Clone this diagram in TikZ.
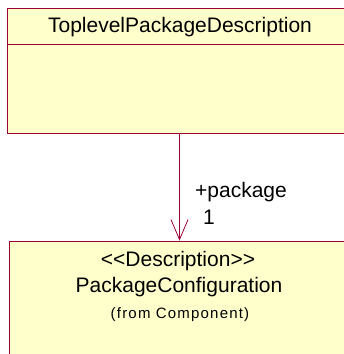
\documentclass[tikz,border=0pt]{standalone}
\usepackage{fontspec}
\setmainfont{Liberation Sans}
\usepackage{xcolor}
\usetikzlibrary{arrows.meta,positioning}
\definecolor{umlborder}{RGB}{153,0,51}
\definecolor{umlfill}{RGB}{255,255,204}
\begin{document}
\begin{tikzpicture}[x=1pt, y=-1pt,
    classbox/.style={rectangle, draw=umlborder, fill=umlfill, line width=0.8pt, inner sep=0pt},
    classname/.style={font=\fontsize{21}{25}\selectfont, inner sep=0pt, anchor=center},
    origin/.style={font=\fontsize{15}{18}\selectfont\addfontfeature{LetterSpace=8}, inner sep=0pt, anchor=center},
    role/.style={font=\fontsize{21}{25}\selectfont, inner sep=0pt},
    assoc/.style={-{Straight Barb[length=20pt, width=17pt, line width=0.8pt]}, draw=umlborder, line width=0.8pt}
]
\useasboundingbox (0,0) rectangle (344,354);
\clip (0,0) rectangle (344,354);

% Classes
\node[classbox, minimum width=343pt, minimum height=125pt] (toplevel) at (178.5,70.5) {};
\node[classbox, minimum width=341pt, minimum height=125pt] (config) at (179.5,303.5) {};

% Compartment line of the upper class
\draw[umlborder, line width=0.8pt] (toplevel.west |- 0,44) coordinate (sepL) -- (toplevel.east |- 0,44) coordinate (sepR);

% Class texts
\node[classname] (toplevelname) at (180,27) {ToplevelPackageDescription};
\node[classname] (stereo) at (178,261) {{<}{<}Description{>}{>}};
\node[classname] (configname) at (179,287) {PackageConfiguration};
\node[origin] (from) at (180,315) {(from Component)};

% Association
\draw[assoc] (toplevel.south -| 179.5,0) -- (config.north -| 179.5,0);
\node[role, anchor=base west] (rolename) at (195,197) {+package};
\node[role, anchor=base west] (mult) at (203,224) {1};
\end{tikzpicture}
\end{document}
